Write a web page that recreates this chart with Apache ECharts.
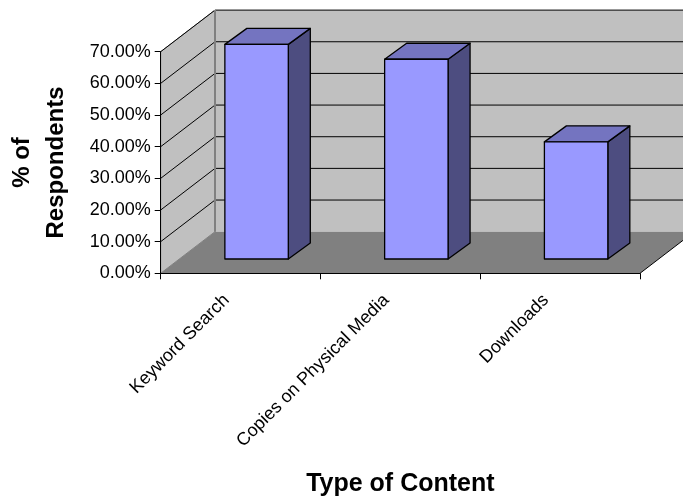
<!DOCTYPE html>
<html>
<head>
<meta charset="utf-8">
<title>Type of Content</title>
<script src="https://cdn.jsdelivr.net/npm/echarts@6/dist/echarts.min.js"></script>
<style>
  html, body { margin: 0; padding: 0; background: #ffffff; }
  #chart { width: 683px; height: 497px; }
</style>
</head>
<body>
<div id="chart"></div>
<script>
// Survey results: share of respondents per type of content
const categories = ['Keyword Search', 'Copies on Physical Media', 'Downloads'];
const respondentShare = [0.678, 0.631, 0.370];
const valueTicks = [0, 0.1, 0.2, 0.3, 0.4, 0.5, 0.6, 0.7];

// Oblique 3D look: wall depth, bar placement inside the depth, and bar thickness
const WALL_DEPTH = [54.3, -41.6];
const BAR_OFFSET = [16, -14.3];
const BAR_DEPTH = [22, -16];
const BAR_WIDTH_RATIO = 0.397;

const FONT = '"Liberation Sans", Arial, sans-serif';

const chart = echarts.init(document.getElementById('chart'), null, { renderer: 'canvas' });

function renderWalls(params, api) {
  const cs = params.coordSys;
  const x0 = cs.x;
  const x1 = cs.x + cs.width;
  const yFloor = api.coord([0, valueTicks[0]])[1];
  const yTop = api.coord([0, valueTicks[valueTicks.length - 1]])[1];
  const dx = WALL_DEPTH[0], dy = WALL_DEPTH[1];
  const children = [];

  // back wall
  children.push({
    type: 'polygon',
    shape: { points: [[x0 + dx, yFloor + dy], [x1 + dx + 40, yFloor + dy], [x1 + dx + 40, yTop + dy], [x0 + dx, yTop + dy]] },
    style: { fill: '#c0c0c0', stroke: null }
  });
  // side wall
  children.push({
    type: 'polygon',
    shape: { points: [[x0, yFloor], [x0 + dx, yFloor + dy], [x0 + dx, yTop + dy], [x0, yTop]] },
    style: { fill: '#c0c0c0', stroke: '#808080', lineWidth: 1 }
  });
  // floor
  children.push({
    type: 'polygon',
    shape: { points: [[x0, yFloor], [x1, yFloor], [x1 + dx, yFloor + dy], [x0 + dx, yFloor + dy]] },
    style: { fill: '#808080', stroke: null }
  });
  children.push({
    type: 'line',
    shape: { x1: x1, y1: yFloor, x2: x1 + dx, y2: yFloor + dy },
    style: { stroke: '#000000', lineWidth: 1 }
  });
  // gridlines across side and back walls
  valueTicks.forEach(function (v) {
    if (v === valueTicks[0]) return;
    const y = api.coord([0, v])[1];
    children.push({
      type: 'polyline',
      shape: { points: [[x0, y], [x0 + dx, y + dy], [x1 + dx + 40, y + dy]] },
      style: { stroke: '#000000', lineWidth: 1, fill: null }
    });
  });
  // edge between side wall and back wall
  children.push({
    type: 'line',
    shape: { x1: x0 + dx, y1: yFloor + dy, x2: x0 + dx, y2: yTop + dy },
    style: { stroke: '#808080', lineWidth: 2 }
  });
  return { type: 'group', children: children };
}

function renderBar(params, api) {
  const idx = api.value(0);
  const val = api.value(1);
  const base = api.coord([idx, 0]);
  const top = api.coord([idx, val]);
  const bw = api.size([1, 0])[0] * BAR_WIDTH_RATIO;
  const xl = base[0] + BAR_OFFSET[0] - bw / 2;
  const xr = xl + bw;
  const yb = base[1] + BAR_OFFSET[1];
  const yt = top[1] + BAR_OFFSET[1];
  const dx = BAR_DEPTH[0], dy = BAR_DEPTH[1];
  const edge = { stroke: '#000000', lineWidth: 1.3, lineJoin: 'round' };
  return {
    type: 'group',
    children: [
      {
        type: 'polygon',
        shape: { points: [[xr, yt], [xr, yb], [xr + dx, yb + dy], [xr + dx, yt + dy]] },
        style: Object.assign({ fill: '#4d4d80' }, edge)
      },
      {
        type: 'polygon',
        shape: { points: [[xl, yt], [xr, yt], [xr + dx, yt + dy], [xl + dx, yt + dy]] },
        style: Object.assign({ fill: '#7474c0' }, edge)
      },
      {
        type: 'polygon',
        shape: { points: [[xl, yt], [xr, yt], [xr, yb], [xl, yb]] },
        style: Object.assign({ fill: '#9999ff' }, edge)
      }
    ]
  };
}

const option = {
  animation: false,
  backgroundColor: '#ffffff',
  grid: { left: 160.7, right: 43, top: 51.7, bottom: 223.7, containLabel: false, outerBoundsMode: 'none' },
  xAxis: {
    type: 'category',
    data: categories,
    z: 10,
    name: 'Type of Content',
    nameLocation: 'middle',
    nameGap: 198,
    nameTextStyle: { fontFamily: FONT, fontWeight: 'bold', fontSize: 25, color: '#000000' },
    axisLine: { show: true, lineStyle: { color: '#000000', width: 1 } },
    axisTick: { show: true, length: 6, lineStyle: { color: '#000000' } },
    axisLabel: {
      rotate: 45,
      margin: 10,
      padding: [0, 20, 0, 0],
      interval: 0,
      fontFamily: FONT,
      fontSize: 18,
      color: '#000000'
    },
    splitLine: { show: false }
  },
  yAxis: {
    type: 'value',
    min: 0,
    max: 0.7,
    interval: 0.1,
    z: 10,
    name: '% of\nRespondents',
    nameLocation: 'middle',
    nameRotate: 90,
    nameGap: 87,
    nameTextStyle: { fontFamily: FONT, fontWeight: 'bold', fontSize: 24, lineHeight: 34, color: '#000000' },
    axisLine: { show: true, lineStyle: { color: '#000000', width: 1 } },
    axisTick: { show: true, length: 6, lineStyle: { color: '#000000' } },
    axisLabel: {
      margin: 10,
      fontFamily: FONT,
      fontSize: 18,
      color: '#000000',
      formatter: function (v) { return (v * 100).toFixed(2) + '%'; }
    },
    splitLine: { show: false }
  },
  series: [
    {
      type: 'custom',
      name: 'walls',
      z: 1,
      silent: true,
      renderItem: renderWalls,
      data: [[0, 0]]
    },
    {
      type: 'custom',
      name: '% of Respondents',
      z: 3,
      renderItem: renderBar,
      encode: { x: 0, y: 1 },
      data: respondentShare.map(function (v, i) { return [i, v]; })
    }
  ]
};

chart.setOption(option);
</script>
</body>
</html>
